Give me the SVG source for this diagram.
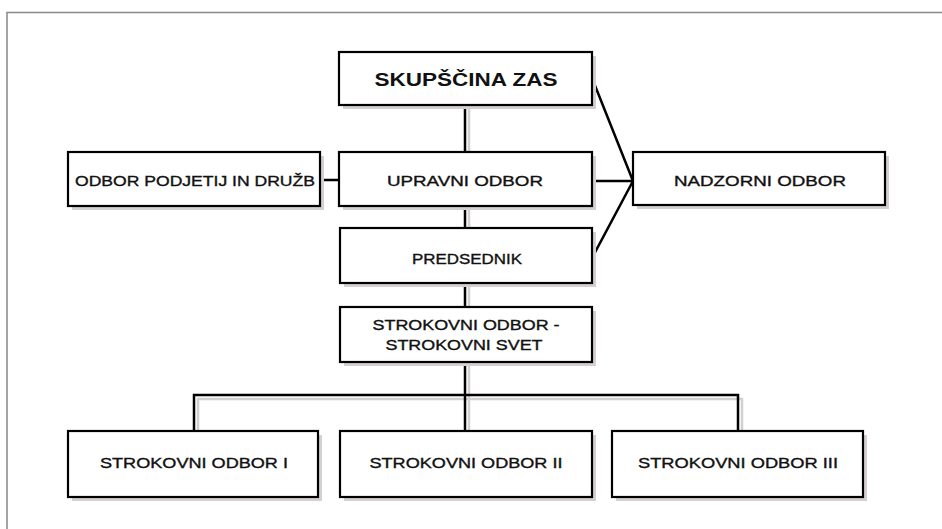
<svg xmlns="http://www.w3.org/2000/svg" width="942" height="529" viewBox="0 0 942 529">
<style>
.box{fill:#fff;stroke:#000;stroke-width:2.2}
.sh{fill:#d4d0d0}
.t{font-family:"Liberation Sans",Arial,sans-serif;font-size:14px;fill:#111;stroke:#111;stroke-width:0.35;text-anchor:middle}
.tb{font-family:"Liberation Sans",Arial,sans-serif;font-size:18px;font-weight:bold;fill:#111;text-anchor:middle}
.ln{fill:none;stroke:#000;stroke-width:2.5}
.lsh{fill:none;stroke:#d4d0d0;stroke-width:2.5}
.frame{fill:none;stroke:#888;stroke-width:1.5}
</style>
<rect width="942" height="529" fill="#fff"/>
<path class="frame" d="M7,529 V12.5 H942"/>
<g id="connectors">
<path class="lsh" d="M469,109 V152 M469,210 V228 M469,287 V307 M469,366 V431 M198,434 V399 H742 V431"/>
<path class="ln" d="M465,105 V152 M465,206 V228 M465,283 V307 M465,362 V431 M194,431 V395 H738 V431"/>
<path class="ln" d="M320,180 H339 M592,181 H633 M592,78 L633,181 L592,258"/>
</g>
<g id="skupscina">
<rect class="sh" x="343" y="56" width="253" height="53"/>
<rect class="box" x="339" y="52" width="253" height="53"/>
<text class="tb" x="466" y="86" textLength="183" lengthAdjust="spacingAndGlyphs">SKUPŠČINA ZAS</text>
</g>
<g id="odbor-podjetij">
<rect class="sh" x="72" y="156" width="252" height="54"/>
<rect class="box" x="68" y="152" width="252" height="54"/>
<text class="t" x="195" y="186" textLength="240" lengthAdjust="spacingAndGlyphs">ODBOR PODJETIJ IN DRUŽB</text>
</g>
<g id="upravni">
<rect class="sh" x="343" y="156" width="253" height="54"/>
<rect class="box" x="339" y="152" width="253" height="54"/>
<text class="t" x="465" y="186" textLength="156" lengthAdjust="spacingAndGlyphs">UPRAVNI ODBOR</text>
</g>
<g id="nadzorni">
<rect class="sh" x="637" y="156" width="252" height="53"/>
<rect class="box" x="633" y="152" width="252" height="53"/>
<text class="t" x="760" y="186" textLength="172" lengthAdjust="spacingAndGlyphs">NADZORNI ODBOR</text>
</g>
<g id="predsednik">
<rect class="sh" x="344" y="232" width="252" height="55"/>
<rect class="box" x="340" y="228" width="252" height="55"/>
<text class="t" x="467" y="264" textLength="110" lengthAdjust="spacingAndGlyphs">PREDSEDNIK</text>
</g>
<g id="strokovni-svet">
<rect class="sh" x="344" y="311" width="252" height="55"/>
<rect class="box" x="340" y="307" width="252" height="55"/>
<text class="t" x="466" y="330" textLength="187" lengthAdjust="spacingAndGlyphs">STROKOVNI ODBOR -</text>
<text class="t" x="464" y="350" textLength="157" lengthAdjust="spacingAndGlyphs">STROKOVNI SVET</text>
</g>
<g id="odbor-1">
<rect class="sh" x="72" y="435" width="250" height="66"/>
<rect class="box" x="68" y="431" width="250" height="66"/>
<text class="t" x="194" y="468" textLength="188" lengthAdjust="spacingAndGlyphs">STROKOVNI ODBOR I</text>
</g>
<g id="odbor-2">
<rect class="sh" x="344" y="435" width="252" height="66"/>
<rect class="box" x="340" y="431" width="252" height="66"/>
<text class="t" x="466" y="468" textLength="193" lengthAdjust="spacingAndGlyphs">STROKOVNI ODBOR II</text>
</g>
<g id="odbor-3">
<rect class="sh" x="616" y="435" width="251" height="66"/>
<rect class="box" x="612" y="431" width="251" height="66"/>
<text class="t" x="738" y="468" textLength="200" lengthAdjust="spacingAndGlyphs">STROKOVNI ODBOR III</text>
</g>
</svg>
